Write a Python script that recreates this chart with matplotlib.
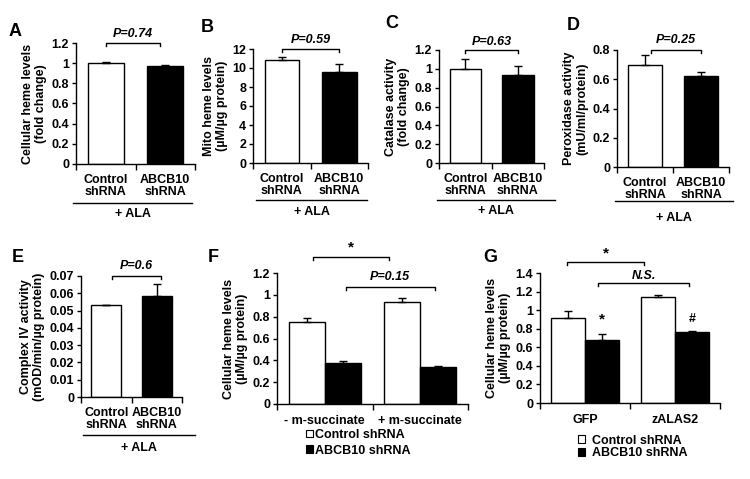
import matplotlib
matplotlib.use('Agg')
import matplotlib.pyplot as plt
from matplotlib.patches import Patch
from matplotlib.lines import Line2D
import matplotlib.transforms as mtrans

plt.rcParams['font.family'] = ['Liberation Sans', 'DejaVu Sans']
plt.rcParams['font.weight'] = 'bold'
plt.rcParams['axes.labelweight'] = 'bold'
plt.rcParams['font.size'] = 9

# data
two_labels = ['Control\nshRNA', 'ABCB10\nshRNA']

a_vals = [1.0, 0.97]
a_err = [0.01, 0.01]
b_vals = [10.8, 9.55]
b_err = [0.35, 0.85]
c_vals = [1.0, 0.93]
c_err = [0.1, 0.1]
d_vals = [0.70, 0.62]
d_err = [0.065, 0.03]
e_vals = [0.053, 0.0585]
e_err = [0.0005, 0.007]

f_groups = ['- m-succinate', '+ m-succinate']
f_ctrl = [0.75, 0.93]
f_ctrl_err = [0.035, 0.04]
f_abcb = [0.38, 0.34]
f_abcb_err = [0.015, 0.008]

g_groups = ['GFP', 'zALAS2']
g_ctrl = [0.92, 1.14]
g_ctrl_err = [0.07, 0.02]
g_abcb = [0.68, 0.76]
g_abcb_err = [0.06, 0.02]

W, H = 750, 479
fig = plt.figure(figsize=(7.5, 4.79), dpi=100)


def px_axes(left, right, top, bottom):
    ax = fig.add_axes([left / W, 1 - bottom / H, (right - left) / W, (bottom - top) / H])
    ax.px_box = (left, right, top, bottom)
    return ax


def style(ax, ymax, step, xmin=-0.5, xmax=1.5):
    ax.spines['top'].set_visible(False)
    ax.spines['right'].set_visible(False)
    ax.set_ylim(0, ymax)
    ax.set_xlim(xmin, xmax)
    n = int(round(ymax / step))
    yt = [round(i * step, 4) for i in range(n + 1)]
    ax.set_yticks(yt)
    ax.set_yticklabels(['%g' % v for v in yt])
    ax.tick_params(direction='out', length=3, width=1, labelsize=9, pad=2)
    for s in ['left', 'bottom']:
        ax.spines[s].set_linewidth(1)


def bracket(ax, x0, x1, y, drop, text, ty, italic=True, size=9):
    ax.plot([x0, x0, x1, x1], [y - drop, y, y, y - drop], color='black', lw=1, clip_on=False)
    ax.text((x0 + x1) / 2, ty, text, ha='center', va='center', fontsize=size,
            style='italic' if italic else 'normal', fontweight='bold')


def ala(ax, x0_px, x1_px, line_dy, text_dy):
    left, right = ax.px_box[0], ax.px_box[1]
    fx0 = (x0_px - left) / (right - left)
    fx1 = (x1_px - left) / (right - left)
    t = ax.transAxes + mtrans.ScaledTranslation(0, -line_dy / 100, fig.dpi_scale_trans)
    ax.add_line(Line2D([fx0, fx1], [0, 0], transform=t, color='black', lw=1, clip_on=False))
    t2 = ax.transAxes + mtrans.ScaledTranslation(0, -text_dy / 100, fig.dpi_scale_trans)
    ax.text((fx0 + fx1) / 2, 0, '+ ALA', transform=t2, ha='center', va='center', fontsize=9)


def two_bar(ax, vals, err):
    x = [0, 1]
    ax.bar(x, vals, width=0.6, color=['white', 'black'], edgecolor='black', linewidth=1, zorder=2)
    ax.errorbar(x, vals, yerr=[[0, 0], err], fmt='none', ecolor='black', elinewidth=1,
                capsize=3, capthick=1, zorder=3)
    ax.set_xticks([0, 1])
    ax.set_xticklabels(two_labels, fontsize=9, linespacing=1.05)
    ax.set_xticks([-0.5, 0.5, 1.5], minor=True)
    ax.tick_params(axis='x', which='major', length=0, pad=7)
    ax.tick_params(axis='x', which='minor', direction='out', length=4, width=1)


def letter(x, y, s):
    fig.text(x / W, 1 - y / H, s, fontsize=13, fontweight='bold', ha='center', va='center')


# A
ax = px_axes(76, 195, 43, 164)
style(ax, 1.2, 0.2)
two_bar(ax, a_vals, a_err)
ax.set_ylabel('Cellular heme levels\n(fold change)', fontsize=9, labelpad=3, linespacing=1.1)
bracket(ax, 0, 0.92, 1.2, 0.03, 'P=0.74', 1.29)
ala(ax, 73, 192, 39, 50)
letter(15, 32, 'A')

# B
ax = px_axes(253, 368, 49, 163)
style(ax, 12, 2)
two_bar(ax, b_vals, b_err)
ax.set_ylabel('Mito heme levels\n(µM/µg protein)', fontsize=9, labelpad=3, linespacing=1.1)
bracket(ax, 0, 1, 12, 0.3, 'P=0.59', 12.9)
ala(ax, 256, 367, 37, 49)
letter(207, 27, 'B')

# C
ax = px_axes(439, 544, 50, 163)
style(ax, 1.2, 0.2)
two_bar(ax, c_vals, c_err)
ax.set_ylabel('Catalase activity\n(fold change)', fontsize=9, labelpad=3, linespacing=1.1)
bracket(ax, 0, 1, 1.2, 0.03, 'P=0.63', 1.29)
ala(ax, 437, 555, 37, 48)
letter(392, 23, 'C')

# D
ax = px_axes(617, 729, 50, 167)
style(ax, 0.8, 0.2)
two_bar(ax, d_vals, d_err)
ax.set_ylabel('Peroxidase activity\n(mU/ml/protein)', fontsize=9, labelpad=3, linespacing=1.1)
bracket(ax, 0.1, 1, 0.8, 0.02, 'P=0.25', 0.865)
ala(ax, 615, 733, 34, 51)
letter(573, 25, 'D')

# E
ax = px_axes(81, 182, 276, 397)
style(ax, 0.07, 0.01)
two_bar(ax, e_vals, e_err)
ax.set_ylabel('Complex IV activity\n(mOD/min/µg protein)', fontsize=9, labelpad=3, linespacing=1.1)
bracket(ax, 0.12, 1.08, 0.07, 0.002, 'P=0.6', 0.0755)
ala(ax, 83, 195, 38, 51)
letter(18, 257, 'E')


def grouped(ax, groups, ctrl, ctrl_err, abcb, abcb_err):
    x = [0, 1]
    w = 0.375
    xc = [v - w / 2 for v in x]
    xa = [v + w / 2 for v in x]
    ax.bar(xc, ctrl, width=w, color='white', edgecolor='black', linewidth=1, zorder=2)
    ax.bar(xa, abcb, width=w, color='black', edgecolor='black', linewidth=1, zorder=2)
    ax.errorbar(xc, ctrl, yerr=[[0, 0], ctrl_err], fmt='none', ecolor='black', elinewidth=1,
                capsize=3, capthick=1, zorder=3)
    ax.errorbar(xa, abcb, yerr=[[0, 0], abcb_err], fmt='none', ecolor='black', elinewidth=1,
                capsize=3, capthick=1, zorder=3)
    ax.set_xticks(x)
    ax.set_xticklabels(groups, fontsize=9)
    ax.set_xticks([-0.5, 0.5, 1.5], minor=True)
    ax.tick_params(axis='x', which='major', length=0, pad=8)
    ax.tick_params(axis='x', which='minor', direction='out', length=4, width=1)


leg_handles = [Patch(facecolor='white', edgecolor='black', linewidth=0.8),
               Patch(facecolor='black', edgecolor='black', linewidth=0.8)]
leg_labels = ['Control shRNA', 'ABCB10 shRNA']

# F
ax = px_axes(277, 468, 273, 404)
style(ax, 1.2, 0.2)
grouped(ax, f_groups, f_ctrl, f_ctrl_err, f_abcb, f_abcb_err)
ax.set_ylabel('Cellular heme levels\n(µM/µg protein)', fontsize=9, labelpad=3, linespacing=1.1)
bracket(ax, -0.125, 0.67, 1.35, 0.03, '*', 1.43, italic=False, size=11)
bracket(ax, 0.22, 1.15, 1.07, 0.03, 'P=0.15', 1.16)
ax.legend(leg_handles, leg_labels, loc='upper left', bbox_to_anchor=(0.15, -0.19),
          frameon=False, handlelength=0.6, handleheight=0.6, handletextpad=0.15,
          labelspacing=0.3, borderpad=0, borderaxespad=0, fontsize=9)
letter(213, 257, 'F')

# G
ax = px_axes(540, 720, 273, 403)
style(ax, 1.4, 0.2)
grouped(ax, g_groups, g_ctrl, g_ctrl_err, g_abcb, g_abcb_err)
ax.set_ylabel('Cellular heme levels\n(µM/µg protein)', fontsize=9, labelpad=3, linespacing=1.1)
bracket(ax, -0.2, 0.66, 1.52, 0.035, '*', 1.61, italic=False, size=11)
bracket(ax, 0.14, 1.16, 1.29, 0.035, 'N.S.', 1.37)
ax.text(0.1875, 0.9, '*', ha='center', va='center', fontsize=11)
ax.text(1.1875, 0.9, '#', ha='center', va='center', fontsize=9)
ax.legend(leg_handles, leg_labels, loc='upper left', bbox_to_anchor=(0.21, -0.245),
          frameon=False, handlelength=0.6, handleheight=0.6, handletextpad=0.5,
          labelspacing=0.05, borderpad=0, borderaxespad=0, fontsize=9)
letter(490, 258, 'G')

fig.savefig('out.png', dpi=100)
